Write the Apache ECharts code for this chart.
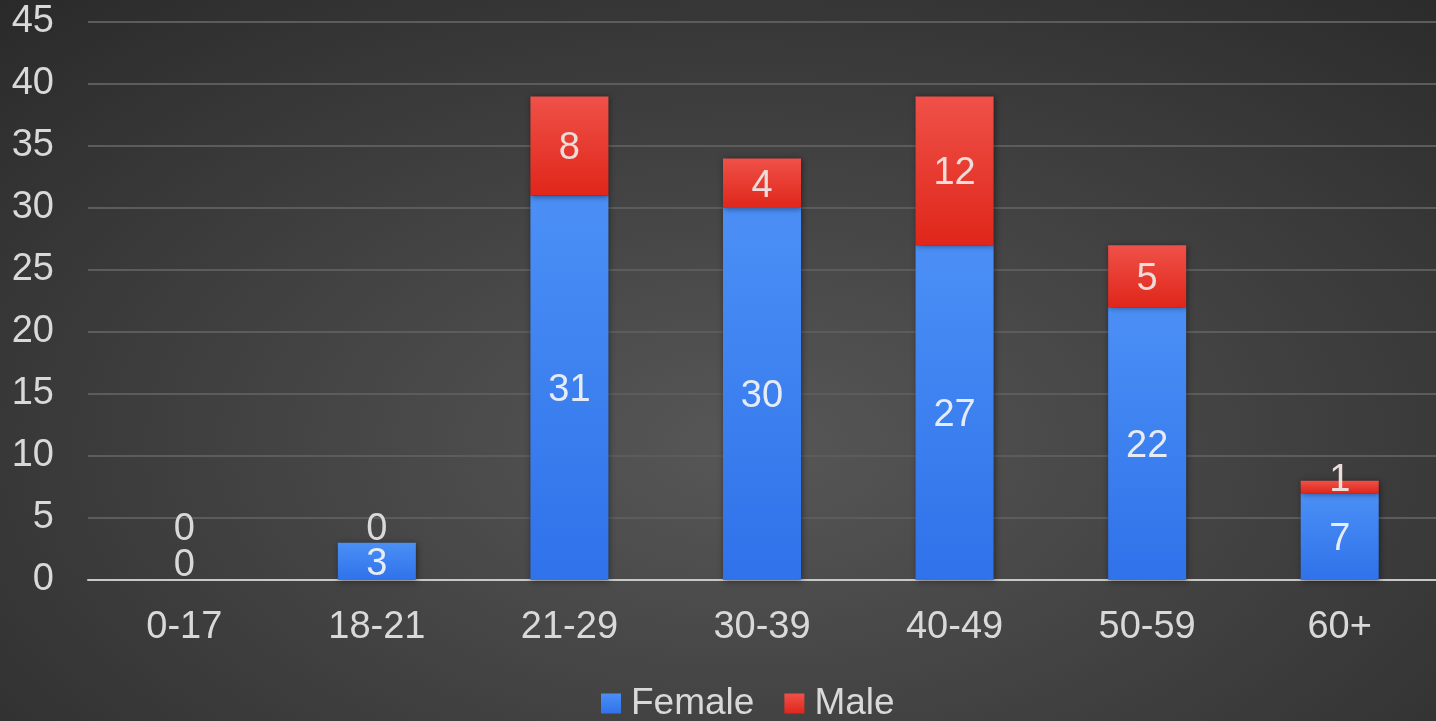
<!DOCTYPE html>
<html>
<head>
<meta charset="utf-8">
<script src="https://cdn.jsdelivr.net/npm/echarts@6/dist/echarts.min.js"></script>
<style>
html,body{margin:0;padding:0;width:1436px;height:721px;overflow:hidden;}
#c{width:1436px;height:721px;background:radial-gradient(ellipse 75% 85% at 52% 62%, #575757 0%, #3e3e3e 55%, #2a2a2a 100%);}
</style>
</head>
<body>
<div id="c"></div>
<script>
const categories = ['0-17','18-21','21-29','30-39','40-49','50-59','60+'];
const female = [0, 3, 31, 30, 27, 22, 7];
const male = [0, 0, 8, 4, 12, 5, 1];
const yTicks = {min: 0, max: 45, interval: 5};

const FONT = '"Liberation Sans", Arial, sans-serif';
const FS = 38;
const chart = echarts.init(document.getElementById('c'), null, {renderer: 'canvas'});

const femaleData = female.map(v => v === 0
  ? {value: v, label: {position: 'insideBottom', distance: -2, color: '#d9d9d9'}}
  : v);
const maleData = male.map((v, i) => v === 0
  ? {value: v, label: {position: 'top', distance: female[i] === 0 ? 34 : -3, color: '#d9d9d9'}}
  : (v <= 2 ? {value: v, label: {position: 'inside', offset: [0, -6]}} : v));

const barShadow = {shadowColor: 'rgba(0,0,0,0.45)', shadowBlur: 6, shadowOffsetX: 1, shadowOffsetY: 1};

chart.setOption({
  backgroundColor: 'transparent',
  animation: false,
  textStyle: {fontFamily: FONT},
  grid: {left: 88, width: 1356, top: 22, bottom: 141, containLabel: false},
  legend: {
    bottom: -6, left: 596,
    itemWidth: 20, itemHeight: 20, itemGap: 30,
    icon: 'rect',
    textStyle: {color: '#d9d9d9', fontSize: 37, fontFamily: FONT, padding: [0, 0, 0, 5]},
    data: ['Female', 'Male']
  },
  xAxis: {
    type: 'category',
    data: categories,
    axisLine: {show: true, lineStyle: {color: '#c8c8c8', width: 2}},
    axisTick: {show: false},
    axisLabel: {color: '#d9d9d9', fontSize: FS, margin: 29, fontFamily: FONT}
  },
  yAxis: {
    type: 'value',
    min: yTicks.min, max: yTicks.max, interval: yTicks.interval,
    axisLine: {show: false},
    axisTick: {show: false},
    axisLabel: {color: '#d9d9d9', fontSize: FS, margin: 34, fontFamily: FONT},
    splitLine: {lineStyle: {color: '#5c5c5c', width: 2}}
  },
  series: [
    {
      name: 'Female', type: 'bar', stack: 'total', barWidth: 78,
      data: femaleData,
      itemStyle: Object.assign({
        color: new echarts.graphic.LinearGradient(0, 0, 0, 1, [
          {offset: 0, color: '#4b8ff6'}, {offset: 1, color: '#2f72ea'}
        ])
      }, barShadow),
      label: {show: true, position: 'inside', color: '#e6ecf5', fontSize: FS, fontFamily: FONT, offset: [0, 3]}
    },
    {
      name: 'Male', type: 'bar', stack: 'total', barWidth: 78,
      data: maleData,
      itemStyle: Object.assign({
        color: new echarts.graphic.LinearGradient(0, 0, 0, 1, [
          {offset: 0, color: '#ef5148'}, {offset: 1, color: '#e0261a'}
        ])
      }, barShadow),
      label: {show: true, position: 'inside', color: '#ecdcda', fontSize: FS, fontFamily: FONT, offset: [0, 3]}
    }
  ]
});
</script>
</body>
</html>
